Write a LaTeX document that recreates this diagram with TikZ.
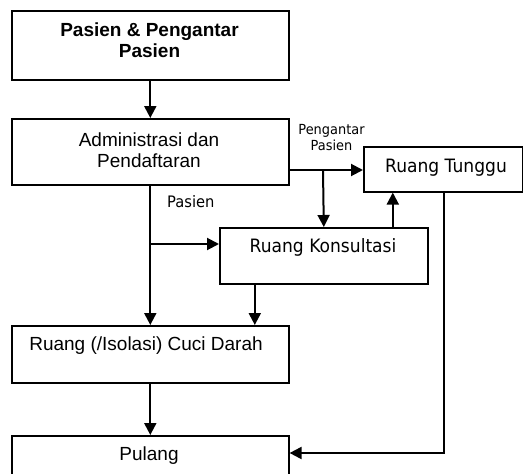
\documentclass[tikz,border=0pt]{standalone}
\usepackage{fontspec}
\setmainfont{Liberation Sans}
\newfontfamily\tahfont[FakeStretch=0.93]{DejaVu Sans}
\usetikzlibrary{arrows.meta}
\begin{document}
\begin{tikzpicture}[x=1pt,y=-1pt,
  box/.style={draw, line width=1.6pt, minimum width=277pt, inner sep=0pt, anchor=north west},
  lbl/.style={inner sep=0pt, anchor=base},
  arialtxt/.style={font=\fontsize{19}{21}\selectfont},
  arialbold/.style={font=\fontsize{19}{21}\selectfont\bfseries},
  roomtxt/.style={font=\tahfont\fontsize{18.4}{21}\selectfont},
  notetxt/.style={font=\tahfont\fontsize{15.8}{18}\selectfont},
  smalltxt/.style={font=\tahfont\fontsize{13.9}{16.5}\selectfont},
  flow/.style={line width=2pt, -{Triangle[length=12pt,width=12pt]}},
  link/.style={line width=2pt}]
\clip (0,0) rectangle (523,474);
\fill[white] (0,0) rectangle (523,474);

% boxes
\node[box, minimum height=69pt] (src) at (11,10) {};
\node[box, minimum height=66pt] (adm) at (11,118) {};
\node[box, minimum width=158.5pt, minimum height=45pt] (wait) at (363,146) {};
\node[box, minimum width=208pt, minimum height=56pt] (cons) at (219,227) {};
\node[box, minimum height=57pt] (dial) at (11,325) {};
\node[box, minimum height=60pt] (home) at (11,435) {};

% box texts
\node[arialbold, align=center, anchor=north, inner sep=0pt] (srct) at (149.5,22.2) {Pasien \& Pengantar\\Pasien};
\node[arialtxt, align=center, anchor=north, inner sep=0pt] (admt) at (149,132.2) {Administrasi dan\\Pendaftaran};
\node[lbl, roomtxt] (waitt) at (446,172) {Ruang Tunggu};
\node[lbl, roomtxt] (const) at (323,252) {Ruang Konsultasi};
\node[lbl, arialtxt] (dialt) at (146,350) {Ruang (/Isolasi) Cuci Darah};
\node[lbl, arialtxt] (homet) at (149,460) {Pulang};

% connector labels
\node[smalltxt, align=center, anchor=north, inner sep=0pt] (escort) at (331.5,123.9) {Pengantar\\Pasien};
\node[lbl, notetxt, anchor=base west] (patient) at (167,207) {Pasien};

% junctions
\coordinate (j1) at (323,170);
\coordinate (j2) at (149.5,244);
\coordinate (turn) at (444,453);

% connectors
\draw[flow] (src.south) -- (adm.north);
\draw[flow] (adm.east |- j1) -- (wait.west |- j1);
\draw[flow] (j1) -- (cons.north);
\draw[flow] ([xshift=69pt]cons.north) -- ([xshift=69pt]cons.north |- wait.south);
\draw[flow] (adm.south) -- (dial.north);
\draw[flow] (j2) -- (cons.west |- j2);
\draw[flow] ([xshift=-69pt]cons.south) -- ([xshift=-69pt]cons.south |- dial.north);
\draw[flow] (dial.south) -- (home.north);
\draw[flow] (wait.south -| turn) -- (turn) -- (home.east |- turn);
\end{tikzpicture}
\end{document}
